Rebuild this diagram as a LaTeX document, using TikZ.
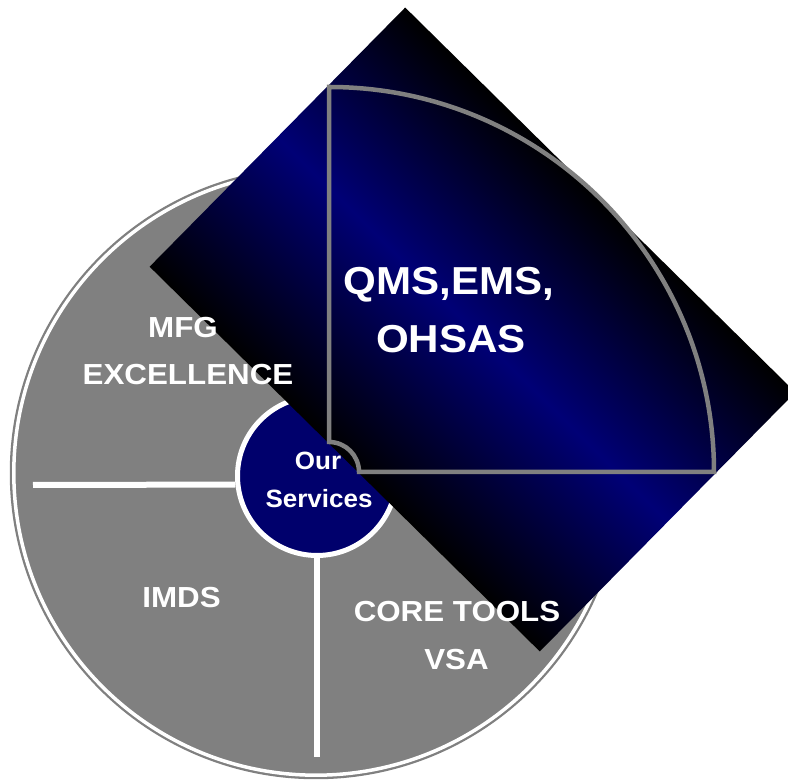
\documentclass[tikz,border=0pt]{standalone}
\usepackage{fontspec}
\setmainfont{Liberation Sans}
\definecolor{navyC}{RGB}{0,0,108}
\definecolor{navyG}{RGB}{0,0,118}
\definecolor{grayF}{RGB}{128,128,128}
\begin{document}
\begin{tikzpicture}[x=1pt,y=1pt,
  lbl/.style={text=white, font=\bfseries\fontsize{29}{34}\selectfont, anchor=base, inner sep=0pt, xscale=1.08},
  biglbl/.style={text=white, font=\bfseries\fontsize{39}{46}\selectfont, anchor=base, inner sep=0pt, xscale=1.08},
  smalllbl/.style={text=white, font=\bfseries\fontsize{25}{30}\selectfont, anchor=base, inner sep=0pt, xscale=1.04},
  divider/.style={white, line width=6},
  outline/.style={grayF, line width=4.5, line join=miter}]
\useasboundingbox (0,0) rectangle (788,781);
\fill[white] (0,0) rectangle (788,781);
% big gray disc
\node[circle, inner sep=0, minimum size=611, fill=grayF, draw=grayF, line width=1.5] (big) at (316,308) {};
\draw[white, line width=3.5] (big.center) circle[radius=302.2];
% centre disc
\node[circle, inner sep=0, minimum size=159, fill=navyC, draw=white, line width=5] (core) at (317,305) {};
\coordinate (hl) at (33,296);
\coordinate (vl) at (317,24);
\draw[divider] (hl) -- (core.186.5);
\draw[divider] (core.south) -- (vl);
% rotated shaded rectangle
\begin{scope}[transform canvas={shift={(472.5,451.5)}, rotate=-44.6}]
  \shade[top color=black, bottom color=black, middle color=navyG] (-274,-182) rectangle (274,182);
\end{scope}
% quarter sector outline
\draw[outline] (329,339) -- (329,694) arc[start angle=90, end angle=0, radius=385] -- (359,309) arc[start angle=0, end angle=90, radius=30] -- cycle;
% labels
\node[lbl] (mfg) at (183,443) {MFG};
\node[lbl] (exc) at (188,396) {EXCELLENCE};
\node[lbl] (imds) at (181.5,173) {IMDS};
\node[lbl] (core1) at (457,159) {CORE TOOLS};
\node[lbl] (vsa) at (456.5,111) {VSA};
\node[biglbl] (qms) at (449,486) {QMS,EMS,};
\node[biglbl] (ohsas) at (451,428) {OHSAS};
\node[smalllbl] (our) at (318,311) {Our};
\node[smalllbl] (serv) at (319,273) {Services};
\end{tikzpicture}
\end{document}
